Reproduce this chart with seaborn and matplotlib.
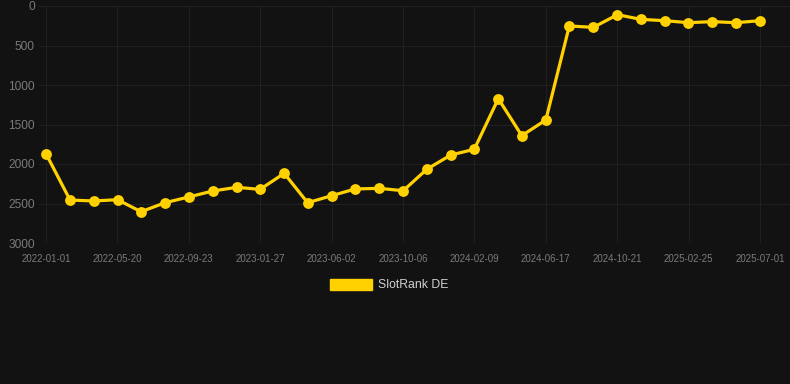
import matplotlib
matplotlib.use("Agg")
import matplotlib.pyplot as plt
import matplotlib.dates as mdates
from matplotlib.patches import Patch
import seaborn as sns
import pandas as pd
import numpy as np

dates = ["2022-01-01", "2022-02-13", "2022-03-27", "2022-05-09", "2022-06-20",
         "2022-08-02", "2022-09-13", "2022-10-26", "2022-12-08", "2023-01-19",
         "2023-03-03", "2023-04-14", "2023-05-27", "2023-07-08", "2023-08-20",
         "2023-10-02", "2023-11-13", "2023-12-26", "2024-02-06", "2024-03-20",
         "2024-05-01", "2024-06-13", "2024-07-25", "2024-09-06", "2024-10-19",
         "2024-11-30", "2025-01-12", "2025-02-23", "2025-04-07", "2025-05-19",
         "2025-07-01"]
ranks = [1870, 2456, 2468, 2452, 2604, 2490, 2418, 2342, 2295, 2321,
         2118, 2490, 2401, 2316, 2308, 2338, 2067, 1886, 1814, 1173,
         1641, 1443, 253, 270, 110, 169, 186, 211, 198, 211, 186]
series_name = "SlotRank DE"
tick_labels = ["2022-01-01", "2022-05-20", "2022-09-23", "2023-01-27", "2023-06-02",
               "2023-10-06", "2024-02-09", "2024-06-17", "2024-10-21", "2025-02-25",
               "2025-07-01"]
y_ticks = [0, 500, 1000, 1500, 2000, 2500, 3000]

bg = "#121212"
line_color = "#FFD100"
grid_color = "#202020"
tick_color = "#7a7a7a"

df = pd.DataFrame({"date": pd.to_datetime(dates), "rank": ranks, "series": series_name})

sns.set_style("dark")
plt.rcParams["font.family"] = ["Liberation Sans", "DejaVu Sans"]

fig = plt.figure(figsize=(7.9, 3.84), dpi=100, facecolor=bg)
ax = fig.add_axes([39 / 790, 1 - 243 / 384, 751 / 790, 237 / 384])
ax.set_facecolor(bg)

sns.lineplot(data=df, x="date", y="rank", ax=ax, color=line_color, linewidth=2.3,
             marker="o", markersize=7.8, markeredgewidth=0, legend=False)

d0 = mdates.date2num(pd.Timestamp(dates[0]))
d1 = mdates.date2num(pd.Timestamp(dates[-1]))
ax.set_xlim(d0 - 12.5, d1 + 53.7)
ax.set_ylim(3000, 0)
ax.set_xticks(np.linspace(d0, d1, len(tick_labels)))
ax.set_xticklabels(tick_labels)
ax.set_yticks(y_ticks)
ax.set_yticklabels([str(v) for v in y_ticks])

ax.grid(True, color=grid_color, linewidth=0.75)
ax.tick_params(axis="x", colors=tick_color, labelsize=7, length=0, pad=8)
ax.tick_params(axis="y", colors=tick_color, labelsize=8.6, length=0, pad=3)
for s in ax.spines.values():
    s.set_visible(False)
ax.set_xlabel("")
ax.set_ylabel("")

handle = Patch(facecolor=line_color, edgecolor=line_color)
fig.legend([handle], [series_name], loc="center", bbox_to_anchor=(0.493, 1 - 285 / 384),
           frameon=False, fontsize=8.8, labelcolor="#d0d0d0", handlelength=3.4,
           handleheight=1.0, handletextpad=0.5)

fig.savefig("out.png", dpi=100, facecolor=bg)
